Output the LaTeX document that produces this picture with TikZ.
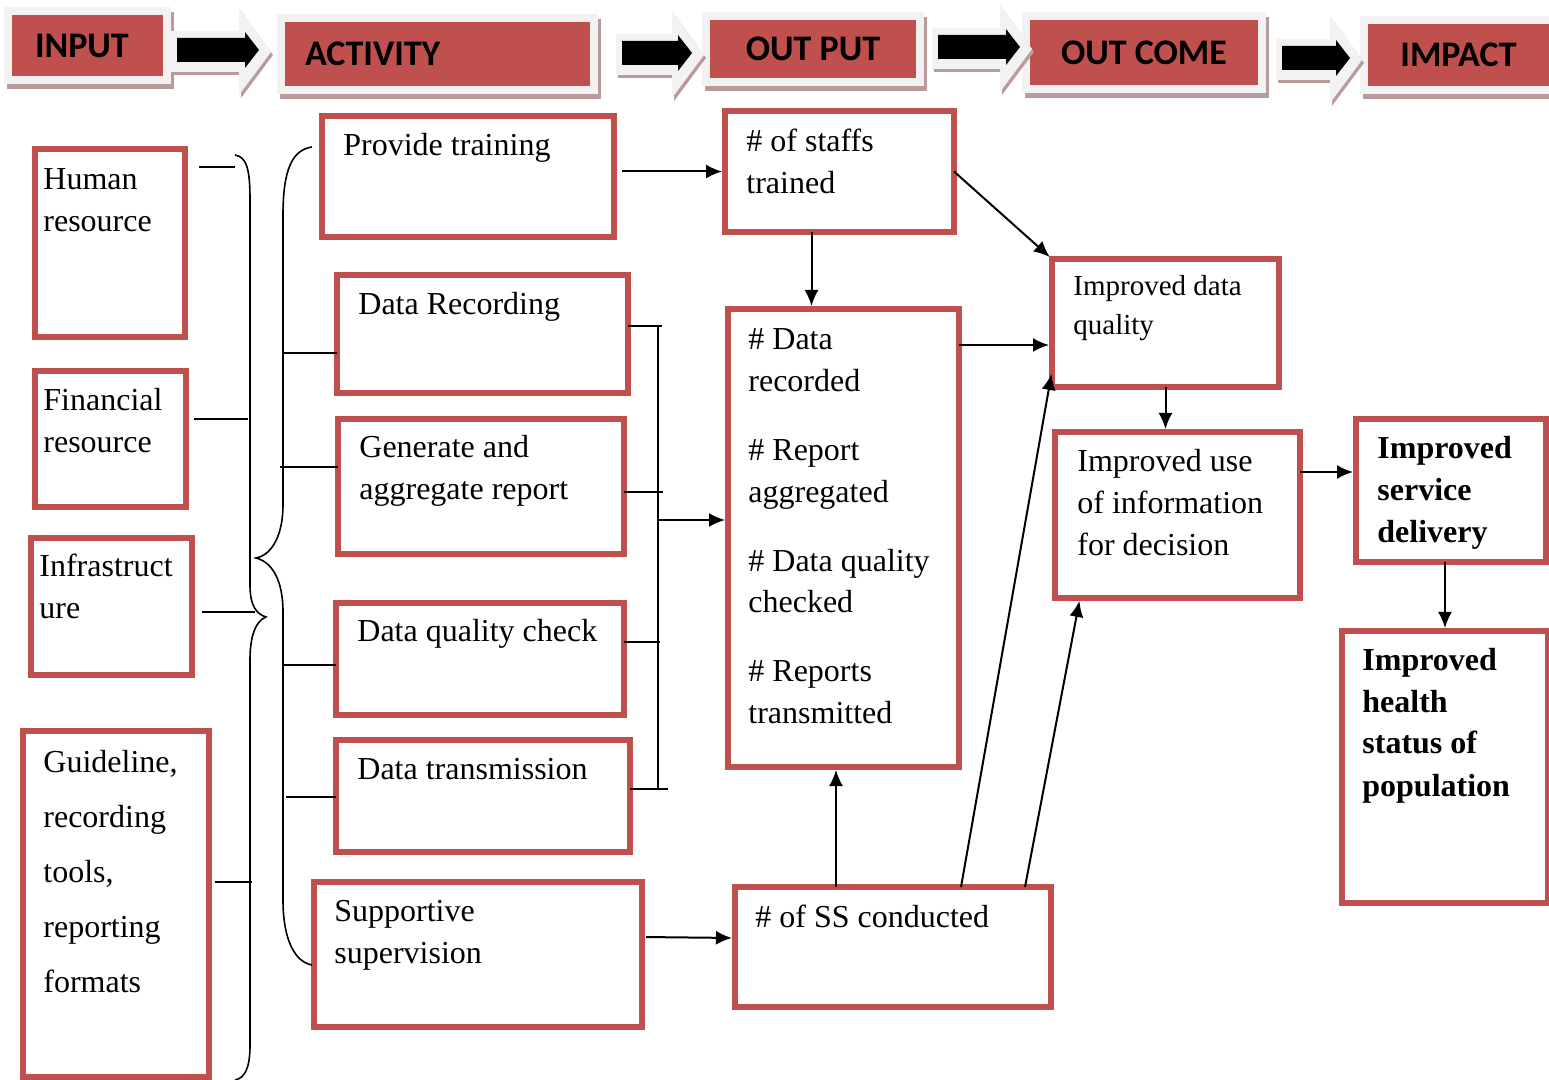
\documentclass[tikz,border=0pt]{standalone}
\usepackage{fontspec}
\setmainfont{Liberation Serif}
\newfontfamily\headfont{Carlito}
\usepackage{tikz}
\usetikzlibrary{arrows.meta}

\definecolor{boxred}{RGB}{192,80,77}
\definecolor{glowgray}{RGB}{242,242,242}
\definecolor{shadegray}{RGB}{185,155,155}

\newcommand{\body}{\fontsize{16}{21}\selectfont}
% big black arrow between the header boxes: x, y, shaft length
\newcommand{\blockarrow}[3]{%
  \fill[shadegray,shift={(2,3)}] (#1-6,#2-19) -- (#1+#3-6,#2-19) -- (#1+#3-6,#2-42) -- (#1+#3+26,#2+2) -- (#1+#3-6,#2+45) -- (#1+#3-6,#2+22) -- (#1-6,#2+22) -- cycle;
  \fill[glowgray] (#1-6,#2-19) -- (#1+#3-6,#2-19) -- (#1+#3-6,#2-42) -- (#1+#3+26,#2+2) -- (#1+#3-6,#2+45) -- (#1+#3-6,#2+22) -- (#1-6,#2+22) -- cycle;
  \fill[black] (#1,#2-12) -- (#1+#3,#2-12) -- (#1+#3,#2-18) -- (#1+#3+14,#2) -- (#1+#3,#2+18) -- (#1+#3,#2+12) -- (#1,#2+12) -- cycle;
}

\tikzset{
  rbox/.style={draw=boxred,line width=3pt,inner sep=0pt,outer sep=0pt,anchor=north west},
  head/.style={fill=boxred,draw=glowgray,line width=4pt,inner sep=0pt,
    font=\headfont\bfseries\fontsize{18}{20}\selectfont,
    preaction={draw=shadegray,line width=4pt,transform canvas={shift={(1.5pt,-2.5pt)}}}},
  % placed by the baseline of the last line
  txt/.style={anchor=base west,align=left,inner sep=0pt,font=\body},
  arr/.style={-{Latex[length=8pt,width=7pt]},line width=1pt,shorten >=1.5pt},
  link/.style={line width=1pt},
  brace/.style={line width=0.8pt}
}

\begin{document}
\begin{tikzpicture}[x=0.5pt,y=-0.5pt]
\useasboundingbox (0,0) rectangle (1549,1080);

% header row
\node[head,minimum height=34.5pt,text width=52.5pt,align=left,inner xsep=13.5pt] (in) at (87.5,45.5) {INPUT};
\node[head,minimum height=36pt,text width=132.5pt,align=left,inner xsep=12pt] (act) at (437.5,54) {ACTIVITY};
\node[head,minimum width=107pt,minimum height=33pt] (outp) at (813,49) {OUT PUT};
\node[head,minimum width=118pt,minimum height=36.5pt] (outc) at (1144,52.5) {OUT COME};
\node[head,minimum width=94.5pt,minimum height=35pt] (imp) at (1458.5,55) {IMPACT};
\blockarrow{177}{50}{68}
\blockarrow{622}{53}{56}
\blockarrow{938}{47}{68}
\blockarrow{1282}{58}{54}

% inputs
\node[rbox,minimum width=75pt,minimum height=94pt] (hr) at (35,149) {};
\node[txt] (hr-t) at (43,232) {Human\\resource};
\node[rbox,minimum width=75.5pt,minimum height=68pt] (fr) at (35,371) {};
\node[txt] (fr-t) at (43,453) {Financial\\resource};
\node[rbox,minimum width=80.5pt,minimum height=68.5pt] (infra) at (31,538) {};
\node[txt] (infra-t) at (39,619) {Infrastruct\\ure};
\node[rbox,minimum width=93pt,minimum height=173pt] (guide) at (23,731) {};
\node[txt,font=\fontsize{16}{27.5}\selectfont] (guide-t) at (43,992) {Guideline,\\recording\\tools,\\reporting\\formats};

% activities
\node[rbox,minimum width=146pt,minimum height=60.5pt] (train) at (322,116) {};
\node[txt] (train-t) at (343,156) {Provide training};
\node[rbox,minimum width=145.5pt,minimum height=59pt] (rec) at (337,275) {};
\node[txt] (rec-t) at (358,315) {Data Recording};
\node[rbox,minimum width=143pt,minimum height=67.5pt] (gen) at (338,419) {};
\node[txt] (gen-t) at (359,500) {Generate and\\aggregate report};
\node[rbox,minimum width=144pt,minimum height=56pt] (dqc) at (336,603) {};
\node[txt] (dqc-t) at (357,642) {Data quality check};
\node[rbox,minimum width=147pt,minimum height=56pt] (trans) at (336,740) {};
\node[txt] (trans-t) at (357,779) {Data transmission};
\node[rbox,minimum width=164pt,minimum height=72.5pt] (ss) at (314,882) {};
\node[txt] (ss-t) at (334,963) {Supportive\\supervision};

% outputs
\node[rbox,minimum width=114.5pt,minimum height=60.5pt] (staffs) at (725,111) {};
\node[txt] (staffs-t) at (746,194) {\# of staffs\\trained};
\node[rbox,minimum width=115.5pt,minimum height=229pt] (outs) at (728,309) {};
\node[txt] (outs-t) at (748,724) {\# Data\\recorded\\[13.5pt]\# Report\\aggregated\\[13.5pt]\# Data quality\\checked\\[13.5pt]\# Reports\\transmitted};
\node[rbox,minimum width=158pt,minimum height=60pt] (ssdone) at (735,887) {};
\node[txt] (ssdone-t) at (755,927) {\# of SS conducted};

% outcomes
\node[rbox,minimum width=113.5pt,minimum height=64pt] (dq) at (1052,259) {};
\node[txt,font=\fontsize{14.5}{19.5}\selectfont] (dq-t) at (1073,335) {Improved data\\quality};
\node[rbox,minimum width=122.5pt,minimum height=83pt] (use) at (1055,432) {};
\node[txt] (use-t) at (1077,556) {Improved use\\of information\\for decision};

% impact
\node[rbox,minimum width=95pt,minimum height=71.5pt] (serv) at (1356,419) {};
\node[txt,font=\body\bfseries] (serv-t) at (1377,543) {Improved\\service\\delivery};
\node[rbox,minimum width=103pt,minimum height=136pt] (health) at (1342,631) {};
\node[txt,font=\body\bfseries] (health-t) at (1362,796) {Improved\\health\\status of\\population};

% braces
\draw[brace] (235,155) .. controls (247,157) and (250,170) .. (250,200) -- (250,585)
  .. controls (250,605) and (256,614) .. (266,617) .. controls (256,621) and (250,635) .. (250,660)
  -- (250,1045) .. controls (250,1068) and (245,1078) .. (235,1080);
\draw[brace] (312,147) .. controls (292,150) and (283,170) .. (283,215) -- (283,505)
  .. controls (283,535) and (272,555) .. (256,558) .. controls (272,562) and (283,580) .. (283,612)
  -- (283,900) .. controls (283,940) and (295,962) .. (312,965);
\draw[link,shorten <=7pt] (hr.east |- 0,167) -- (235,167);
\draw[link,shorten <=4pt] (fr.east |- 0,419) -- (248,419);
\draw[link,shorten <=5pt] (infra.east |- 0,612) -- (255,612);
\draw[link,shorten <=3pt] (guide.east |- 0,882) -- (252,882);
\draw[link] (283,353) -- (rec.west |- 0,353);
\draw[link] (280,467) -- (gen.west |- 0,467);
\draw[link] (283,665) -- (dqc.west |- 0,665);
\draw[link] (286,797) -- (trans.west |- 0,797);

% bracket gathering the data activities
\draw[link] (rec.east |- 0,326) -- (662,326);
\draw[link] (gen.east |- 0,492) -- (663,492);
\draw[link] (dqc.east |- 0,642) -- (660,642);
\draw[link] (trans.east |- 0,789) -- (668,789);
\draw[link] (658,326) -- (658,789);
\draw[arr] (658,520) -- (outs.west |- 0,520);

% arrows
\draw[arr,shorten <=4pt] (train.east |- staffs.west) -- (staffs.west);
\draw[arr] ([xshift=-14pt]staffs.south) -- ([xshift=-14pt]staffs.south |- outs.north);
\draw[arr] (staffs.east) -- (dq.north west);
\draw[arr] (outs.east |- 0,345) -- (dq.west |- 0,345);
\draw[arr] (dq.south) -- (dq.south |- use.north);
\draw[arr] (use.east |- 0,472) -- (serv.west |- 0,472);
\draw[arr] ([xshift=-3pt]serv.south) -- ([xshift=-3pt]serv.south |- health.north);
\draw[arr,shorten <=2pt] (ss.east |- 0,937) -- (ssdone.west |- 0,938);
\draw[arr] (ssdone.north -| 836,0) -- (outs.south -| 836,0);
\draw[arr] (ssdone.north -| 961,0) -- ([yshift=8pt]dq.south west);
\draw[arr] (ssdone.north -| 1025,0) -- (use.south -| 1080,0);
\end{tikzpicture}
\end{document}
